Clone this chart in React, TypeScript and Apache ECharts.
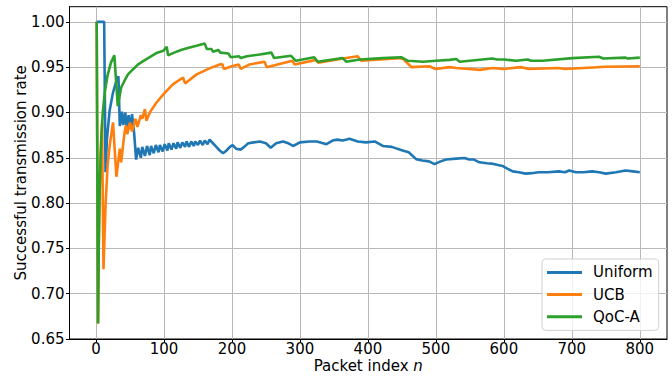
import React, { useEffect, useRef } from "react";
import * as echarts from "echarts";

const xTicks = [0, 100, 200, 300, 400, 500, 600, 700, 800];
const yTicks = [0.65, 0.7, 0.75, 0.8, 0.85, 0.9, 0.95, 1.0];

const uniformIdx = [
  1, 12, 14, 16, 20, 25, 30, 33, 35, 38, 40, 43, 45, 48, 50, 53, 56, 59,
  62, 66, 68, 72, 75, 79, 81, 85, 88, 92, 94, 98, 101, 105, 107, 111, 114, 118, 120, 124, 127,
  131, 133, 137, 140, 144, 146, 150, 153, 157, 160, 164, 167, 172, 177, 182, 187, 192, 197,
  201, 206, 213, 218, 224, 232, 241, 245, 250, 257, 265, 275, 283, 290, 300, 314, 325, 339,
  348, 355, 363, 373, 385, 397, 410, 422, 435, 451, 460, 471, 480, 490, 498, 507, 515, 530,
  542, 549, 556, 564, 575, 583, 598, 605, 613, 622, 632, 641, 651, 665, 681, 690, 696, 706,
  717, 730, 740, 750, 765, 779, 790, 800,
];
const uniformRate = [
  1.0, 1.0, 0.834, 0.87, 0.902, 0.922, 0.935, 0.94, 0.885, 0.901, 0.886, 0.9, 0.884, 0.897, 0.882, 0.898, 0.878, 0.848,
  0.861, 0.85, 0.862, 0.852, 0.863, 0.853, 0.863, 0.855, 0.864, 0.856, 0.864, 0.857, 0.865, 0.858, 0.866, 0.859, 0.866, 0.86, 0.867, 0.861, 0.867,
  0.862, 0.868, 0.862, 0.868, 0.863, 0.868, 0.864, 0.869, 0.864, 0.869, 0.865, 0.87, 0.866, 0.862, 0.858, 0.855, 0.858, 0.862,
  0.864, 0.86, 0.859, 0.862, 0.866, 0.867, 0.868, 0.867, 0.866, 0.861, 0.866, 0.868, 0.866, 0.863, 0.867, 0.868, 0.868, 0.865,
  0.869, 0.87, 0.869, 0.871, 0.868, 0.867, 0.868, 0.863, 0.862, 0.858, 0.856, 0.8485, 0.847, 0.846, 0.843, 0.846, 0.848, 0.849,
  0.8497, 0.848, 0.848, 0.845, 0.844, 0.8435, 0.841, 0.838, 0.835, 0.834, 0.8325, 0.833, 0.834, 0.834, 0.835, 0.834, 0.836, 0.834,
  0.834, 0.835, 0.834, 0.8325, 0.834, 0.836, 0.835, 0.834,
];

const ucbIdx = [
  1, 2, 3, 4, 5, 6, 7, 8, 9, 10, 11, 14, 17, 20, 25, 30, 35, 37, 42, 44, 46, 50, 53, 58, 61,
  66, 68, 72, 74, 80, 89, 99, 113, 128, 131, 148, 167, 182, 186, 188, 200, 210, 213, 226, 248,
  251, 289, 292, 324, 327, 368, 385, 390, 446, 452, 464, 490, 500, 520, 530, 549, 565, 583, 600,
  625, 637, 680, 690, 750, 800,
];
const ucbRate = [
  1.0, 1.0, 0.667, 0.75, 0.8, 0.833, 0.857, 0.875, 0.889, 0.8, 0.727, 0.797, 0.841, 0.863, 0.889, 0.829, 0.86, 0.845, 0.878, 0.886, 0.876, 0.889, 0.879, 0.893, 0.884,
  0.897, 0.893, 0.9036, 0.891, 0.901, 0.911, 0.92, 0.931, 0.9386, 0.932, 0.942, 0.9486, 0.953, 0.953, 0.948, 0.951, 0.953, 0.948, 0.953, 0.956,
  0.95, 0.957, 0.953, 0.958, 0.955, 0.96, 0.962, 0.957, 0.96, 0.959, 0.95, 0.951, 0.948, 0.95, 0.949, 0.948, 0.947, 0.949, 0.948,
  0.95, 0.948, 0.949, 0.948, 0.9505, 0.951,
];

const qocIdx = [
  1, 2, 3, 4, 5, 6, 8, 10, 13, 17, 22, 27, 32, 37, 42, 47, 55, 62, 70, 79, 90, 99, 104, 106,
  115, 125, 135, 148, 160, 163, 170, 172, 180, 183, 195, 198, 210, 213, 222, 241, 258, 262, 287,
  294, 321, 326, 363, 368, 388, 422, 449, 459, 481, 500, 520, 530, 535, 583, 590, 600, 618, 635,
  640, 657, 701, 740, 746, 779, 782, 800,
];
const qocRate = [
  1.0, 1.0, 0.667, 0.75, 0.8, 0.833, 0.875, 0.9, 0.923, 0.941, 0.955, 0.963, 0.907, 0.9275, 0.935, 0.942, 0.948, 0.953, 0.957, 0.961, 0.966, 0.968, 0.9725, 0.963,
  0.966, 0.969, 0.971, 0.9735, 0.976, 0.97, 0.97, 0.967, 0.969, 0.966, 0.965, 0.961, 0.962, 0.96, 0.962, 0.964, 0.966, 0.96, 0.9625,
  0.957, 0.961, 0.956, 0.96, 0.956, 0.9585, 0.96, 0.961, 0.957, 0.956, 0.957, 0.958, 0.959, 0.956, 0.9595, 0.9585, 0.9585, 0.957, 0.9585,
  0.957, 0.957, 0.96, 0.9615, 0.9595, 0.9605, 0.9595, 0.9605,
];

const seriesNames = ["Uniform", "UCB", "QoC-A"];
const seriesColors = ["#1f77b4", "#ff7f0e", "#2ca02c"];

const FONT = "DejaVu Sans";

export default function App() {
  const ref = useRef<HTMLDivElement>(null);
  useEffect(() => {
    if (!ref.current) return;
    const chart = echarts.init(ref.current, null, { renderer: "svg" });
    const pairs = (xs: number[], ys: number[]) => xs.map((x, i) => [x, ys[i]]);
    const datasets = [
      pairs(uniformIdx, uniformRate),
      pairs(ucbIdx, ucbRate),
      pairs(qocIdx, qocRate),
    ];
    chart.setOption({
      animation: false,
      backgroundColor: "#fff",
      textStyle: { fontFamily: FONT },
      grid: {
        left: 69.5,
        right: 5,
        top: 6.7,
        bottom: 38,
        show: true,
        borderColor: "#000",
        borderWidth: 1,
        backgroundColor: "transparent",
      },
      legend: {
        left: 542,
        top: 259,
        orient: "vertical",
        padding: [4.4, 6, 4.6, 5],
        itemGap: 4.2,
        itemWidth: 35,
        itemHeight: 3,
        icon: "rect",
        backgroundColor: "rgba(255,255,255,0.8)",
        borderColor: "#d0d0d0",
        borderWidth: 1,
        borderRadius: 4,
        textStyle: {
          fontFamily: FONT,
          fontSize: 15,
          color: "#000",
          lineHeight: 18,
          padding: [0, 0, 0, 6],
        },
        data: seriesNames,
      },
      xAxis: {
        type: "value",
        min: -39,
        max: 840,
        splitNumber: 9,
        name: "Packet index {i|n}",
        nameLocation: "middle",
        nameGap: 19,
        nameMoveOverlap: false,
        nameTextStyle: {
          fontFamily: FONT,
          fontSize: 15,
          color: "#000",
          rich: { i: { fontStyle: "italic", fontFamily: FONT, fontSize: 15, color: "#000" } },
        },
        axisLine: { show: true, onZero: false, lineStyle: { color: "#000", width: 1 } },
        axisTick: { show: true, length: 3.5, customValues: xTicks, lineStyle: { color: "#000" } },
        axisLabel: {
          customValues: xTicks,
          margin: 2,
          fontFamily: FONT,
          fontSize: 15,
          color: "#000",
        },
        splitLine: { show: true, lineStyle: { color: "#b8b8b8", width: 1 } },
      },
      yAxis: {
        type: "value",
        min: 0.65,
        max: 1.0167,
        interval: 0.05,
        name: "Successful transmission rate",
        nameLocation: "middle",
        nameGap: 41,
        nameMoveOverlap: false,
        nameTextStyle: { fontFamily: FONT, fontSize: 15, color: "#000" },
        axisLine: { show: true, onZero: false, lineStyle: { color: "#000", width: 1 } },
        axisTick: { show: true, length: 3.5, customValues: yTicks, lineStyle: { color: "#000" } },
        axisLabel: {
          customValues: yTicks,
          margin: 5,
          fontFamily: FONT,
          fontSize: 15,
          color: "#000",
          formatter: (v: number) => v.toFixed(2),
        },
        splitLine: { show: true, lineStyle: { color: "#b8b8b8", width: 1 } },
      },
      series: seriesNames.map((name, i) => ({
        name,
        type: "line",
        data: datasets[i],
        symbol: "none",
        showSymbol: false,
        color: seriesColors[i],
        lineStyle: { color: seriesColors[i], width: 2.6 },
        z: 2 + i,
      })),
    });
    return () => chart.dispose();
  }, []);
  return (
    <div
      ref={ref}
      style={{ position: "fixed", left: 0, top: 0, width: 672, height: 378 }}
    />
  );
}
